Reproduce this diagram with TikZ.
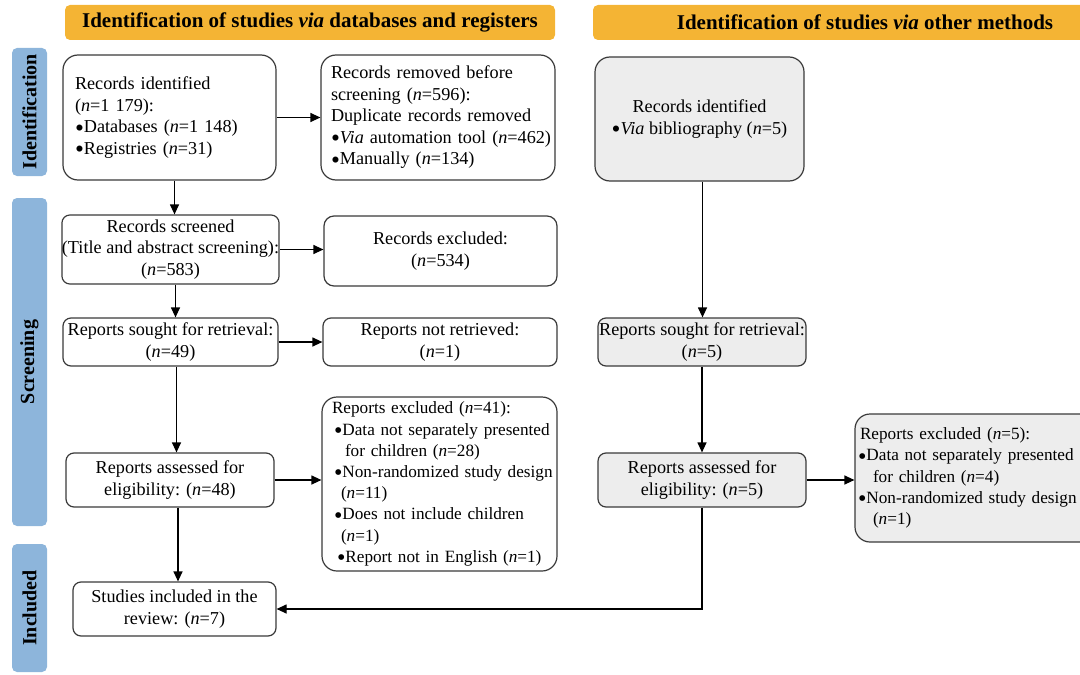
\documentclass[tikz,border=0pt]{standalone}
\usepackage{fontspec}
\setmainfont{Liberation Serif}
\usepackage{tikz}
\usetikzlibrary{arrows.meta}
\definecolor{headorange}{HTML}{F4B434}
\definecolor{sideblue}{HTML}{8DB5DB}
\definecolor{boxgray}{HTML}{EDEDED}
\definecolor{edgegray}{HTML}{3A3A3A}
\newcommand{\bull}{\raisebox{-0.4ex}[0pt][0pt]{\scalebox{1.4}{\textbullet}}}
\newcommand{\nn}{\textit{n}}

\begin{document}
\begin{tikzpicture}[x=0.5pt,y=-0.5pt,
    box/.style={draw=edgegray,line width=0.6pt,rounded corners=4pt,fill=white,inner sep=0pt,align=center,font=\fontsize{9.1}{10.75}\selectfont},
    bigbox/.style={box,rounded corners=7.5pt},
    graybox/.style={fill=boxgray},
    smalltext/.style={font=\fontsize{8.6}{10.6}\selectfont},
    head/.style={fill=headorange,rounded corners=2.5pt,inner sep=0pt,font=\fontsize{10.5}{12}\selectfont\bfseries},
    side/.style={fill=sideblue,rounded corners=2.5pt,inner sep=0pt,rotate=90,font=\fontsize{10}{12}\selectfont\bfseries},
    arr/.style={-{Triangle[length=5pt,width=4.5pt]},line width=0.6pt}]

      \useasboundingbox (0,0) rectangle (1080,674);

      \node[head,minimum width=245pt,minimum height=17.5pt] (dbhead) at (310,22.5) {Identification of studies \textit{via} databases and registers};
      \node[head,minimum width=272pt,minimum height=17.5pt] (othhead) at (865,22.5) {Identification of studies \textit{via} other methods};

      \node[side,minimum width=64pt,minimum height=17.5pt] (idside) at (29.5,112) {Identification};
      \node[side,minimum width=164pt,minimum height=17.5pt] (scrside) at (29.5,362) {Screening};
      \node[side,minimum width=64pt,minimum height=17.5pt] (incside) at (29.5,608) {Included};

      \node[bigbox,align=left,text width=94.5pt,inner xsep=6pt,minimum height=62.5pt] (ident) at (169.5,117.5)
        {Records identified\\ (\nn=1~179):\\ \bull Databases (\nn=1~148)\\ \bull Registries (\nn=31)};
      \node[bigbox,align=left,text width=107pt,inner xsep=5pt,minimum height=62.5pt] (removed) at (438,117.5)
        {Records removed before\\ screening (\nn=596):\\ Duplicate records removed\\ \mbox{\bull\textit{Via} automation tool (\nn=462)}\\ \bull Manually (\nn=134)};
      \node[bigbox,graybox,minimum width=104.5pt,minimum height=62pt] (othident) at (699.5,119)
        {Records identified\\ \bull\textit{Via} bibliography (\nn=5)};

      \node[box,minimum width=107.5pt,minimum height=34.5pt] (screened) at (170.5,249.5)
        {Records screened\\ (Title and abstract screening):\\ (\nn=583)};
      \node[box,rounded corners=5pt,minimum width=116.5pt,minimum height=35pt] (recexcl) at (440.5,251)
        {Records excluded:\\ (\nn=534)};

      \node[box,minimum width=107.5pt,minimum height=24pt] (sought) at (170.5,342)
        {Reports sought for retrieval:\\ (\nn=49)};
      \node[box,minimum width=117pt,minimum height=24pt] (notret) at (440,342)
        {Reports not retrieved:\\ (\nn=1)};
      \node[box,graybox,minimum width=104pt,minimum height=24pt] (othsought) at (702,342)
        {Reports sought for retrieval:\\ (\nn=5)};

      \node[box,minimum width=104pt,minimum height=27pt] (assessed) at (170,480)
        {Reports assessed for\\ eligibility: (\nn=48)};
      \node[bigbox,smalltext,align=left,text width=107.5pt,inner xsep=5pt,minimum height=87pt] (repexcl) at (439.5,484)
        {Reports excluded (\nn=41):\\
         \mbox{\hspace{1pt}\bull Data not separately presented}\\
         \hspace*{6.5pt}for children (\nn=28)\\
         \mbox{\hspace{1pt}\bull Non-randomized study design}\\
         \hspace*{4.5pt}(\nn=11)\\
         \hspace*{1pt}\bull Does not include children\\
         \hspace*{4.5pt}(\nn=1)\\
         \mbox{\hspace{2.5pt}\bull Report not in English (\nn=1)}};
      \node[box,graybox,minimum width=104pt,minimum height=27pt] (othassessed) at (702,480)
        {Reports assessed for\\ eligibility: (\nn=5)};
      \node[bigbox,graybox,smalltext,align=left,text width=117pt,inner xsep=1.5pt,minimum height=64pt] (othexcl) at (975,478)
        {\hspace*{1pt}Reports excluded (\nn=5):\\
         \mbox{\bull Data not separately presented}\\
         \hspace*{7.5pt}for children (\nn=4)\\
         \mbox{\bull Non-randomized study design}\\
         \hspace*{7.5pt}(\nn=1)};

      \node[box,minimum width=101.5pt,minimum height=27pt] (included) at (174.5,609)
        {Studies included in the\\ review: (\nn=7)};

      \draw[arr] ([xshift=2.5pt]ident.south) -- ([xshift=2.5pt]ident.south |- screened.north);
      \draw[arr] (ident.east) -- (ident.east -| removed.west);
      \draw[arr] (screened.east) -- (screened.east -| recexcl.west);
      \draw[arr] ([xshift=2.5pt]screened.south) -- ([xshift=2.5pt]screened.south |- sought.north);
      \draw[arr] (sought.east) -- (sought.east -| notret.west);
      \draw[arr] ([xshift=3pt]sought.south) -- ([xshift=3pt]sought.south |- assessed.north);
      \draw[arr] (assessed.east) -- (assessed.east -| repexcl.west);
      \draw[arr] ([xshift=4pt]assessed.south) -- ([xshift=4pt]assessed.south |- included.north);
      \draw[arr] ([xshift=1.5pt]othident.south) -- ([xshift=1.5pt]othident.south |- othsought.north);
      \draw[arr] (othsought.south) -- (othsought.south |- othassessed.north);
      \draw[arr] (othassessed.east) -- (othassessed.east -| othexcl.west);
      \draw[arr] (othassessed.south) |- (included.east);

    \end{tikzpicture}
\end{document}
